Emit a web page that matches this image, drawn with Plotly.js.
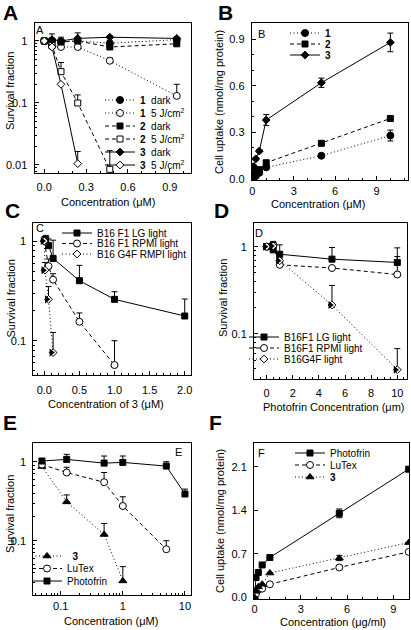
<!DOCTYPE html>
<html><head><meta charset="utf-8">
<script src="https://cdn.plot.ly/plotly-3.0.1.min.js"></script>
<style>html,body{margin:0;padding:0;background:#fff}#chart{width:411px;height:630px}</style>
</head><body><div id="chart"></div>
<script>
// ---------- Panel A : survival vs concentration (uM) ----------
const xA1 = [0, 0.055, 0.12, 0.24, 0.47, 0.95];
const xA2 = [0, 0.055, 0.12, 0.24, 0.47];
const xA3 = [0, 0.055, 0.12, 0.24];
const a1Dark  = [1.0, 1.02, 0.98, 1.0, 0.92, 1.05];
const a1Light = [1.0, 0.82, 0.80, 0.80, 0.48, 0.13];
const a1LightErr = [0, 0, 0, 0, 0.05, 0.07];
const a2Dark  = [1.0, 0.98, 0.96, 1.0, 0.80, 0.90];
const a2DarkErr = [0, 0, 0, 0, 0.1, 0.08];
const a2Light = [1.0, 0.85, 0.32, 0.10, 0.0085];
const a2LightErr = [0, 0, 0.13, 0.035, 0.0085];
const a3Dark  = [1.0, 1.05, 1.0, 1.1, 1.15, 1.1];
const a3DarkErr = [0, 0.25, 0.15, 0.25, 0.05, 0.05];
const a3Light = [1.0, 0.8, 0.2, 0.0105];
const a3LightErr = [0, 0, 0, 0.006];
const namesA = ['<b>1</b>  dark', '<b>1</b>  5 J/cm<sup>2</sup>', '<b>2</b>  dark', '<b>2</b>  5 J/cm<sup>2</sup>', '<b>3</b>  dark', '<b>3</b>  5 J/cm<sup>2</sup>'];

// ---------- Panel B : cell uptake ----------
const xB = [0, 0.1, 0.25, 0.5, 1, 5, 10];
const b1 = [0, 0.01, 0.02, 0.04, 0.075, 0.15, 0.28];
const b1Err = [0, 0, 0, 0, 0.01, 0.01, 0.035];
const b2 = [0, 0.03, 0.05, 0.06, 0.105, 0.23, 0.39];
const b2Err = [0, 0, 0, 0, 0.01, 0.01, 0.01];
const b3 = [0, 0.08, 0.13, 0.18, 0.38, 0.62, 0.88];
const b3Err = [0, 0.01, 0.01, 0.01, 0.035, 0.03, 0.06];
const namesB = ['<b>1</b>', '<b>2</b>', '<b>3</b>'];

// ---------- Panel C : survival vs concentration of 3 ----------
const xC1 = [0.02, 0.06, 0.125, 0.5, 1.0, 2.0];
const c1 = [1.04, 0.9, 0.67, 0.40, 0.26, 0.177];
const c1Err = [0.1, 0.15, 0.35, 0.17, 0.05, 0.085];
const xC2 = [0, 0.06, 0.125, 0.5, 1.0];
const c2 = [1.0, 0.56, 0.41, 0.155, 0.057];
const c2Err = [0.1, 0.1, 0.06, 0.035, 0.043];
const xC3 = [0, 0.01, 0.06, 0.125];
const c3 = [1.0, 0.51, 0.26, 0.076];
const c3Err = [0.05, 0.1, 0.09, 0.045];
const namesC = ['B16 F1 LG light', 'B16 F1 RPMI light', 'B16 G4F RMPI light'];

// ---------- Panel D : survival vs Photofrin ----------
const xD = [0, 0.5, 1, 5, 10];
const d1 = [1.0, 0.92, 0.82, 0.72, 0.66];
const d1Err = [0, 0.18, 0.23, 0.26, 0.31];
const d2 = [1.0, 1.05, 0.62, 0.57, 0.48];
const d2Err = [0, 0.1, 0.03, 0.02, 0.29];
const d3 = [1.0, 1.02, 0.69, 0.215, 0.039];
const d3Err = [0, 0.1, 0.05, 0.145, 0.029];
const namesD = ['B16F1 LG light', 'B16F1 RPMI light', 'B16G4F light'];

// ---------- Panel E : survival, log concentration ----------
const xE1 = [0.05, 0.125, 0.5, 1, 5, 10];
const ePhoto = [1.02, 1.07, 0.96, 0.98, 0.88, 0.39];
const ePhotoErr = [0.08, 0.17, 0.22, 0.2, 0.12, 0.06];
const xE2 = [0.05, 0.125, 0.5, 1, 5];
const eLutex = [0.92, 0.73, 0.55, 0.275, 0.078];
const eLutexErr = [0.04, 0.12, 0.18, 0.085, 0.022];
const xE3 = [0.05, 0.125, 0.5, 1];
const e3 = [0.87, 0.31, 0.12, 0.031];
const e3Err = [0.04, 0.07, 0.045, 0.016];
const namesE = ['\u00a0\u00a0<b>3</b>', 'LuTex', 'Photofrin'];

// ---------- Panel F : cell uptake (ug/ml) ----------
const xF = [0, 0.1, 0.25, 0.5, 1, 5.5, 10];
const fPhoto = [0, 0.32, 0.40, 0.52, 0.64, 1.35, 2.06];
const fPhotoErr = [0, 0, 0, 0, 0, 0.07, 0];
const fLutex = [0, 0.06, 0.12, 0.14, 0.21, 0.48, 0.73];
const f3 = [0, 0.1, 0.17, 0.21, 0.39, 0.63, 0.88];
const f3Err = [0, 0, 0, 0, 0, 0.04, 0];
const namesF = ['Photofrin', 'LuTex', '<b>3</b>'];

// axis titles
const titleSurv = 'Survival fraction';
const titleUptake = 'Cell uptake (nmol/mg protein)';
const titleConc = 'Concentration (μM)';
const titleConc3 = 'Concentration of 3 (μM)';
const titlePhoto = 'Photofrin Concentration (μm)';
const titleConcMass = 'Concentration (μg/ml)';

// ---------- styling helpers ----------
const FONT = 'Liberation Sans, Arial, Helvetica, sans-serif';
const SOLID = 'solid', DASH = '4px,3px', DOT = '1px,2.5px';
const ln = d => ({color: '#000', width: 1, dash: d});
const mk = (s, size, filled) => ({symbol: s, size: size, color: filled ? '#000' : '#fff', line: {color: '#000', width: 1}});
const errUp = a => ({type: 'data', symmetric: false, array: a, arrayminus: a.map(() => 0), color: '#000', thickness: 1, width: 3});
const errSym = a => ({type: 'data', array: a, color: '#000', thickness: 1, width: 3});

function tr(ax, leg, x, y, name, dash, marker, err) {
  const t = {x: x, y: y, name: name, xaxis: 'x' + ax, yaxis: 'y' + ax, legend: leg,
    mode: 'lines+markers', line: ln(dash), marker: marker, cliponaxis: true};
  if (err) t.error_y = err;
  return t;
}
function halfFill(ax, x, y, size) {
  return {x: x, y: y, xaxis: 'x' + ax, yaxis: 'y' + ax, mode: 'markers', showlegend: false,
    hoverinfo: 'skip', cliponaxis: true,
    marker: {symbol: 'triangle-up', angle: 90, standoff: size / 4, size: size, color: '#000', line: {width: 0}}};
}

const traces = [
  // A
  tr('', 'legend', xA1, a1Dark, namesA[0], DOT, mk('circle', 7, true)),
  tr('', 'legend', xA1, a1Light, namesA[1], DOT, mk('circle', 7, false), errUp(a1LightErr)),
  tr('', 'legend', xA1, a2Dark, namesA[2], DASH, mk('square', 6, true), errUp(a2DarkErr)),
  tr('', 'legend', xA2, a2Light, namesA[3], DASH, mk('square', 6, false), errUp(a2LightErr)),
  tr('', 'legend', xA1, a3Dark, namesA[4], SOLID, mk('diamond', 6, true), errUp(a3DarkErr)),
  tr('', 'legend', xA3, a3Light, namesA[5], SOLID, mk('diamond', 6, false), errUp(a3LightErr)),
  // B
  tr('2', 'legend2', xB, b1, namesB[0], DOT, mk('circle', 7, true), errSym(b1Err)),
  tr('2', 'legend2', xB, b2, namesB[1], DASH, mk('square', 6, true), errSym(b2Err)),
  tr('2', 'legend2', xB, b3, namesB[2], SOLID, mk('diamond', 6, true), errSym(b3Err)),
  // C
  tr('3', 'legend3', xC1, c1, namesC[0], SOLID, mk('square', 6, true), errUp(c1Err)),
  tr('3', 'legend3', xC2, c2, namesC[1], DASH, mk('circle', 7, false), errUp(c2Err)),
  tr('3', 'legend3', xC3, c3, namesC[2], DOT, mk('diamond', 6, false), errUp(c3Err)),
  halfFill('3', xC3, c3, 7),
  // D
  tr('4', 'legend4', xD, d1, namesD[0], SOLID, mk('square', 6, true), errUp(d1Err)),
  tr('4', 'legend4', xD, d2, namesD[1], DASH, mk('circle', 7, false), errUp(d2Err)),
  tr('4', 'legend4', xD, d3, namesD[2], DOT, mk('diamond', 6, false), errUp(d3Err)),
  halfFill('4', xD, d3, 7),
  // E
  tr('5', 'legend5', xE3, e3, namesE[0], DOT, mk('triangle-up', 7, true), errUp(e3Err)),
  tr('5', 'legend5', xE2, eLutex, namesE[1], DASH, mk('circle', 7, false), errUp(eLutexErr)),
  tr('5', 'legend5', xE1, ePhoto, namesE[2], SOLID, mk('square', 6, true), errUp(ePhotoErr)),
  // F
  tr('6', 'legend6', xF, fPhoto, namesF[0], SOLID, mk('square', 6, true), errSym(fPhotoErr)),
  tr('6', 'legend6', xF, fLutex, namesF[1], DASH, mk('circle', 7, false)),
  tr('6', 'legend6', xF, f3, namesF[2], DOT, mk('triangle-up', 7, true), errSym(f3Err)),
];

// ---------- layout ----------
const W = 411, H = 630;
const px = v => v / W, py = v => 1 - v / H;
const base = {
  showline: true, linecolor: '#000', linewidth: 1, mirror: true,
  ticks: 'inside', ticklen: 4, tickwidth: 1, tickcolor: '#000',
  showgrid: false, zeroline: false, automargin: false, fixedrange: true,
  tickfont: {family: FONT, size: 11, color: '#000'},
  minor: {ticks: 'inside', ticklen: 2, tickcolor: '#000', tickwidth: 1, showgrid: false}
};
const logMinor = Object.assign({}, base.minor, {dtick: 'D1'});
const axis = o => Object.assign({}, base, o);
const layout = {
  width: W, height: H, margin: {l: 0, r: 0, t: 0, b: 0},
  paper_bgcolor: '#fff', plot_bgcolor: '#fff',
  font: {family: FONT, size: 11, color: '#000'},
  // A
  xaxis: axis({domain: [px(34.5), px(190.7)], range: [-0.07, 1.05], dtick: 0.3, tickformat: '.1f', anchor: 'y', ticklabelstandoff: 3}),
  yaxis: axis({domain: [py(173.3), py(23.3)], type: 'log', range: [-2.134, 0.285], dtick: 1, anchor: 'x', ticklabelstandoff: 4, minor: logMinor}),
  // B
  xaxis2: axis({domain: [px(251.7), px(408.3)], range: [-0.05, 11.3], dtick: 3, anchor: 'y2', ticklabelstandoff: 1}),
  yaxis2: axis({domain: [py(180), py(23.3)], range: [-0.0064, 1.003], dtick: 0.3, tickformat: '.1f', anchor: 'x2', ticklabelstandoff: 4}),
  // C
  xaxis3: axis({domain: [px(33.3), px(190.7)], range: [-0.157, 2.085], dtick: 0.5, tickformat: '.1f', anchor: 'y3', ticklabelstandoff: 5}),
  yaxis3: axis({domain: [py(375), py(223.3)], type: 'log', range: [-1.344, 0.178], dtick: 1, anchor: 'x3', ticklabelstandoff: 4, minor: logMinor}),
  // D
  xaxis4: axis({domain: [px(254), px(406.7)], range: [-0.97, 10.72], dtick: 2, anchor: 'y4', ticklabelstandoff: 3}),
  yaxis4: axis({domain: [py(379.3), py(223.3)], type: 'log', range: [-1.519, 0.268], dtick: 1, anchor: 'x4', ticklabelstandoff: 4, minor: logMinor}),
  // E
  xaxis5: axis({domain: [px(33.3), px(190.7)], type: 'log', range: [-1.44, 1.092], dtick: 1, anchor: 'y5', ticklabelstandoff: 1, minor: logMinor}),
  yaxis5: axis({domain: [py(595), py(443.3)], type: 'log', range: [-1.687, 0.233], dtick: 1, anchor: 'x5', ticklabelstandoff: 4, minor: logMinor}),
  // F
  xaxis6: axis({domain: [px(254), px(409)], range: [-0.03, 10.02], dtick: 3, anchor: 'y6', ticklabelstandoff: 0}),
  yaxis6: axis({domain: [py(599), py(443.3)], range: [-0.027, 2.476], dtick: 0.7, tickformat: '.1f', anchor: 'x6', ticklabelstandoff: 4}),
  annotations: [],
  showlegend: true
};

// legends: text start x (px), first item centre y (px), item spacing (px)
const LEG = {
  legend:  {tx: 140, cy: 100, sp: 13},
  legend2: {tx: 325, cy: 33, sp: 11},
  legend3: {tx: 97, cy: 233, sp: 10.5},
  legend4: {tx: 284, cy: 337, sp: 11},
  legend5: {tx: 67, cy: 556, sp: 12.5},
  legend6: {tx: 330, cy: 453, sp: 12}
};
Object.keys(LEG).forEach(id => {
  const c = LEG[id];
  layout[id] = {x: px(c.tx - 40), y: py(c.cy - 14.5), xanchor: 'left', yanchor: 'top',
    bgcolor: 'rgba(0,0,0,0)', borderwidth: 0, itemwidth: 30, tracegroupgap: 0,
    font: {family: FONT, size: 10, color: '#000'}};
});

const ann = (text, x, y, size, angle, xa) => layout.annotations.push({text: text, xref: 'paper', yref: 'paper',
  x: px(x), y: py(y), xanchor: xa || 'center', yanchor: 'middle', showarrow: false, textangle: angle || 0,
  font: {family: FONT, size: size, color: '#000'}});

// axis titles (text, centre x px, centre y px)
[[titleConc, 108, 202], [titleConc, 318, 204], [titleConc3, 106, 404], [titlePhoto, 333, 407],
 [titleConc, 111, 621], [titleConcMass, 333, 622]].forEach(t => ann(t[0], t[1], t[2], 11));
[[titleSurv, 10, 91], [titleUptake, 219, 102], [titleSurv, 10, 298.5], [titleSurv, 223, 298],
 [titleSurv, 10, 514], [titleUptake, 220, 521]].forEach(t => ann(t[0], t[1], t[2], 11, -90));

// panel letters (big bold) and small inner letters
[['A', 1, 12.5], ['B', 216, 12], ['C', 3, 210.5], ['D', 212, 210.5], ['E', 1, 422.5], ['F', 207, 422.5]]
  .forEach(b => ann('<b>' + b[0] + '</b>', b[1], b[2], 21, 0, 'left'));
[['A', 39.5, 30], ['B', 261, 34], ['C', 40, 228], ['D', 259, 233], ['E', 178, 452], ['F', 261, 453]]
  .forEach(b => ann(b[0], b[1], b[2], 11));

function compactLegends() {
  Object.keys(LEG).forEach(id => {
    const g = document.querySelector('.infolayer g.' + id);
    if (!g) return;
    const items = g.querySelectorAll('g.traces');
    let y0 = null;
    items.forEach((it, i) => {
      const m = /translate\(\s*([-\d.e]+)[\s,]+([-\d.e]+)\s*\)/.exec(it.getAttribute('transform') || '');
      if (!m) return;
      if (y0 === null) y0 = parseFloat(m[2]);
      it.setAttribute('transform', 'translate(' + m[1] + ',' + (y0 + i * LEG[id].sp) + ')');
    });
  });
}

Plotly.newPlot('chart', traces, layout, {staticPlot: true, displayModeBar: false, responsive: false})
  .then(compactLegends);
</script>
</body></html>
